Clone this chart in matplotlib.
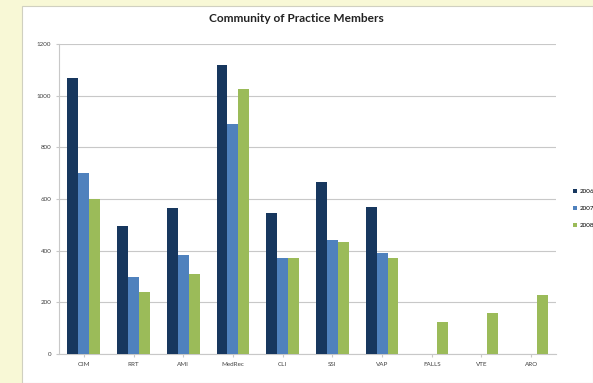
import numpy as np
import matplotlib.pyplot as plt
from matplotlib.patches import Rectangle

# andmed
kategooriad = ['OIM', 'RRT', 'AMI', 'MedRec', 'CLI', 'SSI', 'VAP', 'FALLS', 'VTE', 'ARO']
aastad = ['2006', '2007', '2008']
s2006 = [1068, 495, 565, 1120, 545, 665, 570, 0, 0, 0]
s2007 = [700, 300, 385, 890, 370, 440, 390, 0, 0, 0]
s2008 = [600, 240, 310, 1025, 370, 435, 370, 125, 160, 230]
varvid = ['#17375E', '#4F81BD', '#9BBB59']

plt.rcParams['font.family'] = ['Lato', 'DejaVu Sans']

fig = plt.figure(figsize=(5.93, 3.83), dpi=100)
fig.patch.set_facecolor('#F8F8D6')
# valge diagrammi ala
taust = Rectangle((22 / 593, 0), 1 - 22 / 593, 1 - 6 / 383,
                  transform=fig.transFigure, facecolor='white',
                  edgecolor='#D0D0C0', linewidth=0.8, zorder=-5)
fig.add_artist(taust)

ax = fig.add_axes([59 / 593, 29 / 383, (556 - 59) / 593, (354 - 44) / 383])
ax.set_zorder(2)
x = np.arange(len(kategooriad))
w = 0.22
for i, (s, c, a) in enumerate(zip([s2006, s2007, s2008], varvid, aastad)):
    ax.bar(x + (i - 1) * w, s, w, color=c, label=a, zorder=3)

ax.set_xlim(-0.5, len(kategooriad) - 0.5)
ax.set_ylim(0, 1200)
ax.set_yticks(range(0, 1201, 200))
ax.set_xticks(x)
ax.set_xticklabels(kategooriad)
ax.yaxis.grid(True, color='#C8C8C8', linewidth=0.8, zorder=0)
for side in ['top', 'right']:
    ax.spines[side].set_visible(False)
ax.spines['left'].set_color('#C8C8C8')
ax.spines['bottom'].set_color('#C8C8C8')
ax.tick_params(axis='both', labelsize=4.5, colors='#C8C8C8', labelcolor='#404040', length=2)
ax.set_facecolor('white')

fig.text(0.5, 1 - 19 / 383, 'Community of Practice Members', ha='center', va='center',
         fontsize=8.6, fontweight='bold', color='#222222')

# legend, paremal serval osaliselt välja lõigatud
ax.legend(loc='center left', bbox_to_anchor=(1.03, 0.47), frameon=False, fontsize=4.5,
          handlelength=0.6, handleheight=0.6, handletextpad=0.4, labelspacing=1.9,
          borderaxespad=0)

plt.savefig('out.png', dpi=100)
